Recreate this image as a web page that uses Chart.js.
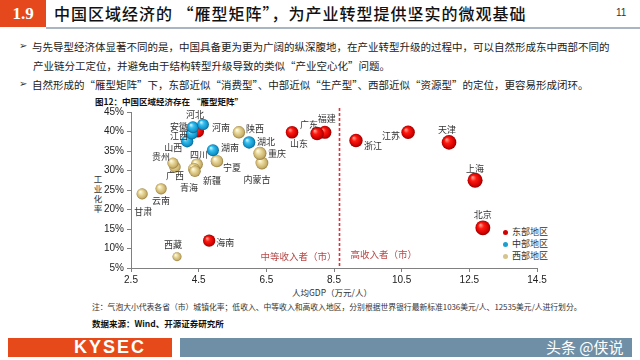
<!DOCTYPE html>
<html><head><meta charset="utf-8">
<script src="https://cdn.jsdelivr.net/npm/chart.js@4/dist/chart.umd.min.js"></script>
<style>
html,body{margin:0;padding:0;width:640px;height:360px;overflow:hidden;background:#fff;font-family:"Noto Sans CJK SC","Noto Sans",sans-serif;color:#222;}
.a{position:absolute;white-space:nowrap;}
#cv{position:absolute;left:0;top:0;}
</style></head><body>
<div class="a" style="left:0;top:0;width:46px;height:27px;background:#e5481c;color:#fff;font:bold 17px 'Liberation Serif',serif;line-height:27px;text-align:center;">1.9</div>
<div class="a" style="left:46px;top:27px;width:594px;height:2px;background:#a9b6c1;"></div>
<div class="a" style="left:54px;top:1px;font-size:16px;font-weight:500;line-height:24px;letter-spacing:1px;color:#111;">中国区域经济的 “雁型矩阵”，为产业转型提供坚实的微观基础</div>
<div class="a" style="left:616px;top:7px;font:10px 'Liberation Sans',sans-serif;color:#333;">11</div>

<div class="a" style="left:19px;top:40px;font:10px 'DejaVu Sans',sans-serif;color:#333;">➢</div>
<div class="a" style="left:32px;top:39px;font-size:10.5px;line-height:16px;color:#222;">与先导型经济体显著不同的是，中国具备更为更为广阔的纵深腹地，在产业转型升级的过程中，可以自然形成东中西部不同的</div>
<div class="a" style="left:33px;top:58px;font-size:10.5px;line-height:16px;color:#222;">产业链分工定位，并避免由于结构转型升级导致的类似“产业空心化”问题。</div>
<div class="a" style="left:19px;top:78px;font:10px 'DejaVu Sans',sans-serif;color:#333;">➢</div>
<div class="a" style="left:32px;top:77px;font-size:10.5px;line-height:16px;color:#222;">自然形成的“雁型矩阵”下，东部近似“消费型”、中部近似“生产型”、西部近似“资源型”的定位，更容易形成闭环。</div>

<div class="a" style="left:95px;top:95px;font-size:8.5px;font-weight:bold;line-height:12px;color:#111;">图12：中国区域经济存在 “雁型矩阵”</div>
<div class="a" style="left:93px;top:173px;width:10px;font-size:8.5px;line-height:10px;white-space:normal;text-align:center;color:#333;">工<br>业<br>化<br>率</div>
<div class="a" style="left:292px;top:286px;font-size:8.5px;line-height:12px;color:#333;">人均GDP（万元/人）</div>

<div class="a" style="left:503px;top:230px;width:5px;height:5px;border-radius:50%;background:#d40000;"></div>
<div class="a" style="left:512px;top:226px;font-size:9px;line-height:12px;color:#333;">东部地区</div>
<div class="a" style="left:503px;top:242px;width:5px;height:5px;border-radius:50%;background:#1a9fd0;"></div>
<div class="a" style="left:512px;top:238px;font-size:9px;line-height:12px;color:#333;">中部地区</div>
<div class="a" style="left:503px;top:254px;width:5px;height:5px;border-radius:50%;background:#d6c48a;"></div>
<div class="a" style="left:512px;top:250px;font-size:9px;line-height:12px;color:#333;">西部地区</div>

<div class="a" style="left:92px;top:301px;font-size:7.8px;line-height:12px;color:#333;">注：气泡大小代表各省（市）城镇化率；低收入、中等收入和高收入地区，分别根据世界银行最新标准1036美元/人、12535美元/人进行划分。</div>
<div class="a" style="left:92px;top:317px;font-size:8.5px;font-weight:bold;line-height:12px;color:#111;">数据来源：Wind、开源证券研究所</div>

<div class="a" style="left:8px;top:338px;width:164px;height:19px;background:#e64a1a;"></div>
<div class="a" style="left:74px;top:338px;font:bold 18px 'Liberation Sans',sans-serif;letter-spacing:2px;line-height:19px;color:#fff;">KYSEC</div>
<div class="a" style="left:180px;top:338px;width:452px;height:19px;background:#6f8fa7;"></div>
<div class="a" style="left:546px;top:337px;font-size:15px;line-height:20px;color:#fff;">头条 @侠说</div>

<canvas id="cv" width="640" height="360"></canvas>
<script>
// ---- data ----
const xTicks = [2.5, 4.5, 6.5, 8.5, 10.5, 12.5, 14.5];
const yTicks = [5, 10, 15, 20, 25, 30, 35, 40, 45];
const highIncomeLine = 8.65; // 12535 USD / person, 万元

const eastNames = ['北京','天津','上海','江苏','浙江','福建','广东','山东','河北','海南'];
const eastGDP   = [12.90, 11.90, 12.67, 10.69, 9.15, 8.23, 8.00, 7.26, 4.48, 4.81];
const eastInd   = [15.3, 37.2, 27.5, 39.8, 37.7, 39.8, 39.5, 39.8, 40.0, 12.0];
const eastUrb   = [86.6, 83.5, 88.3, 70.6, 70.0, 66.5, 71.4, 61.5, 57.6, 59.2];

const centralNames = ['山西','江西','安徽','河南','湖北','湖南'];
const centralGDP   = [4.16, 4.30, 4.33, 4.63, 5.99, 4.92];
const centralInd   = [37.5, 39.5, 41.1, 41.8, 37.2, 35.2];
const centralUrb   = [59.6, 57.4, 55.8, 53.2, 61.0, 57.2];

const westNames = ['内蒙古','广西','重庆','四川','贵州','云南','西藏','陕西','甘肃','青海','宁夏','新疆'];
const westGDP   = [6.37, 3.80, 6.31, 4.45, 3.74, 3.39, 3.86, 5.69, 2.83, 4.36, 5.04, 4.39];
const westInd   = [31.9, 30.9, 34.4, 31.6, 31.9, 25.3, 7.9, 39.8, 24.0, 30.4, 32.4, 29.8];
const westUrb   = [63.4, 51.1, 66.8, 53.8, 49.0, 48.9, 31.5, 59.4, 48.5, 55.5, 59.9, 51.9];

// ---- layout (label placement relative to bubble, px) ----
const labelOffset = {
  '北京':[0,-13],'天津':[-2,-13],'上海':[0,-12],'江苏':[-17,3],'浙江':[17,5],'福建':[2,-14],
  '广东':[-8,-9],'山东':[7,11],'河北':[-3,-17],'海南':[16,2],
  '山西':[-14,6],'安徽':[-14,-1],'江西':[-13,2],'河南':[18,3],'湖北':[17,-1],'湖南':[17,-3],
  '内蒙古':[-5,16],'广西':[0,9],'重庆':[17,0],'四川':[2,-10],'贵州':[-12,-7],'云南':[0,12],
  '西藏':[-4,-12],'陕西':[16,-4],'甘肃':[1,18],'青海':[-5,19],'宁夏':[15,6],'新疆':[17,9]
};

const radiusOf = u => 0.8 * Math.sqrt(u);
function pts(names, xs, ys, us){
  return names.map((n,i)=>({x:xs[i], y:ys[i], r:radiusOf(us[i]), name:n}));
}
function ball(stops){
  return function(ctx){
    if(ctx.type!=='data' || !ctx.raw) return stops[1];
    const ch = ctx.chart, xs = ch.scales.x, ys = ch.scales.y;
    if(!xs || !ys) return stops[1];
    const x = xs.getPixelForValue(ctx.raw.x), y = ys.getPixelForValue(ctx.raw.y), r = ctx.raw.r;
    if(!isFinite(x) || !isFinite(y) || !isFinite(r)) return stops[1];
    const g = ch.ctx.createRadialGradient(x - r*0.35, y - r*0.4, r*0.05, x, y, r*1.02);
    g.addColorStop(0, stops[0]); g.addColorStop(0.35, stops[1]);
    g.addColorStop(0.8, stops[2]); g.addColorStop(1, stops[3]);
    return g;
  };
}
const redBall  = ['#ff9d90','#ff1a10','#d00000','#8a0000'];
const blueBall = ['#c8f2ff','#34bff0','#1092c8','#075f8a'];
const tanBall  = ['#fffbe6','#eadb9e','#c9b06a','#8f7636'];

const guidePlugin = {
  id:'guide',
  beforeDatasetsDraw(chart){
    const c = chart.ctx, xs = chart.scales.x, ca = chart.chartArea;
    const px = Math.round(xs.getPixelForValue(highIncomeLine)) + 0.5;
    c.save();
    c.strokeStyle = '#e0303a'; c.lineWidth = 1.6; c.setLineDash([3,2]);
    c.beginPath(); c.moveTo(px, ca.top - 4); c.lineTo(px, ca.bottom); c.stroke();
    c.setLineDash([]);
    c.fillStyle = '#b94848'; c.font = '9.5px "Noto Sans CJK SC"'; c.textBaseline = 'middle';
    c.textAlign = 'right'; c.fillText('中等收入者（市）', px - 3, ca.bottom - 12);
    c.textAlign = 'left';  c.fillText('高收入者（市）', px + 11, ca.bottom - 14);
    c.restore();
  },
  afterDatasetsDraw(chart){
    const c = chart.ctx;
    c.save();
    c.fillStyle = '#333'; c.font = '9px "Noto Sans CJK SC"';
    c.textAlign = 'center'; c.textBaseline = 'middle';
    chart.data.datasets.forEach((ds, di)=>{
      const meta = chart.getDatasetMeta(di);
      meta.data.forEach((el, i)=>{
        const n = ds.data[i].name, o = labelOffset[n] || [0,-12];
        c.fillText(n, el.x + o[0], el.y + o[1]);
      });
    });
    c.restore();
  }
};

new Chart(document.getElementById('cv'), {
  type:'bubble',
  data:{ datasets:[
    {label:'中部地区', data:pts(centralNames, centralGDP, centralInd, centralUrb), backgroundColor:ball(blueBall), borderWidth:0},
    {label:'西部地区', data:pts(westNames, westGDP, westInd, westUrb), backgroundColor:ball(tanBall), borderWidth:0},
    {label:'东部地区', data:pts(eastNames, eastGDP, eastInd, eastUrb), backgroundColor:ball(redBall), borderWidth:0}
  ]},
  options:{
    responsive:false, animation:false, devicePixelRatio:1,
    events:[],
    layout:{padding:{left:91, right:103, top:112, bottom:72}},
    plugins:{legend:{display:false}, tooltip:{enabled:false}},
    scales:{
      x:{ type:'linear', min:2.5, max:14.5,
          afterBuildTicks: s => { s.ticks = xTicks.map(v=>({value:v})); },
          afterFit: s => { s.height = 20; },
          grid:{drawOnChartArea:false, drawTicks:true, tickLength:4, color:'#808080'},
          border:{color:'#808080', width:1},
          ticks:{padding:2, color:'#222', font:{family:'Liberation Sans', size:10}, callback:v=>v.toFixed(1)} },
      y:{ type:'linear', min:5, max:45,
          afterBuildTicks: s => { s.ticks = yTicks.map(v=>({value:v})); },
          afterFit: s => { s.width = 40; },
          grid:{drawOnChartArea:false, drawTicks:true, tickLength:4, color:'#808080'},
          border:{color:'#808080', width:1},
          ticks:{padding:3, color:'#222', font:{family:'Liberation Sans', size:10}, callback:v=>v+'%'} }
    }
  },
  plugins:[guidePlugin]
});
</script>
</body></html>
